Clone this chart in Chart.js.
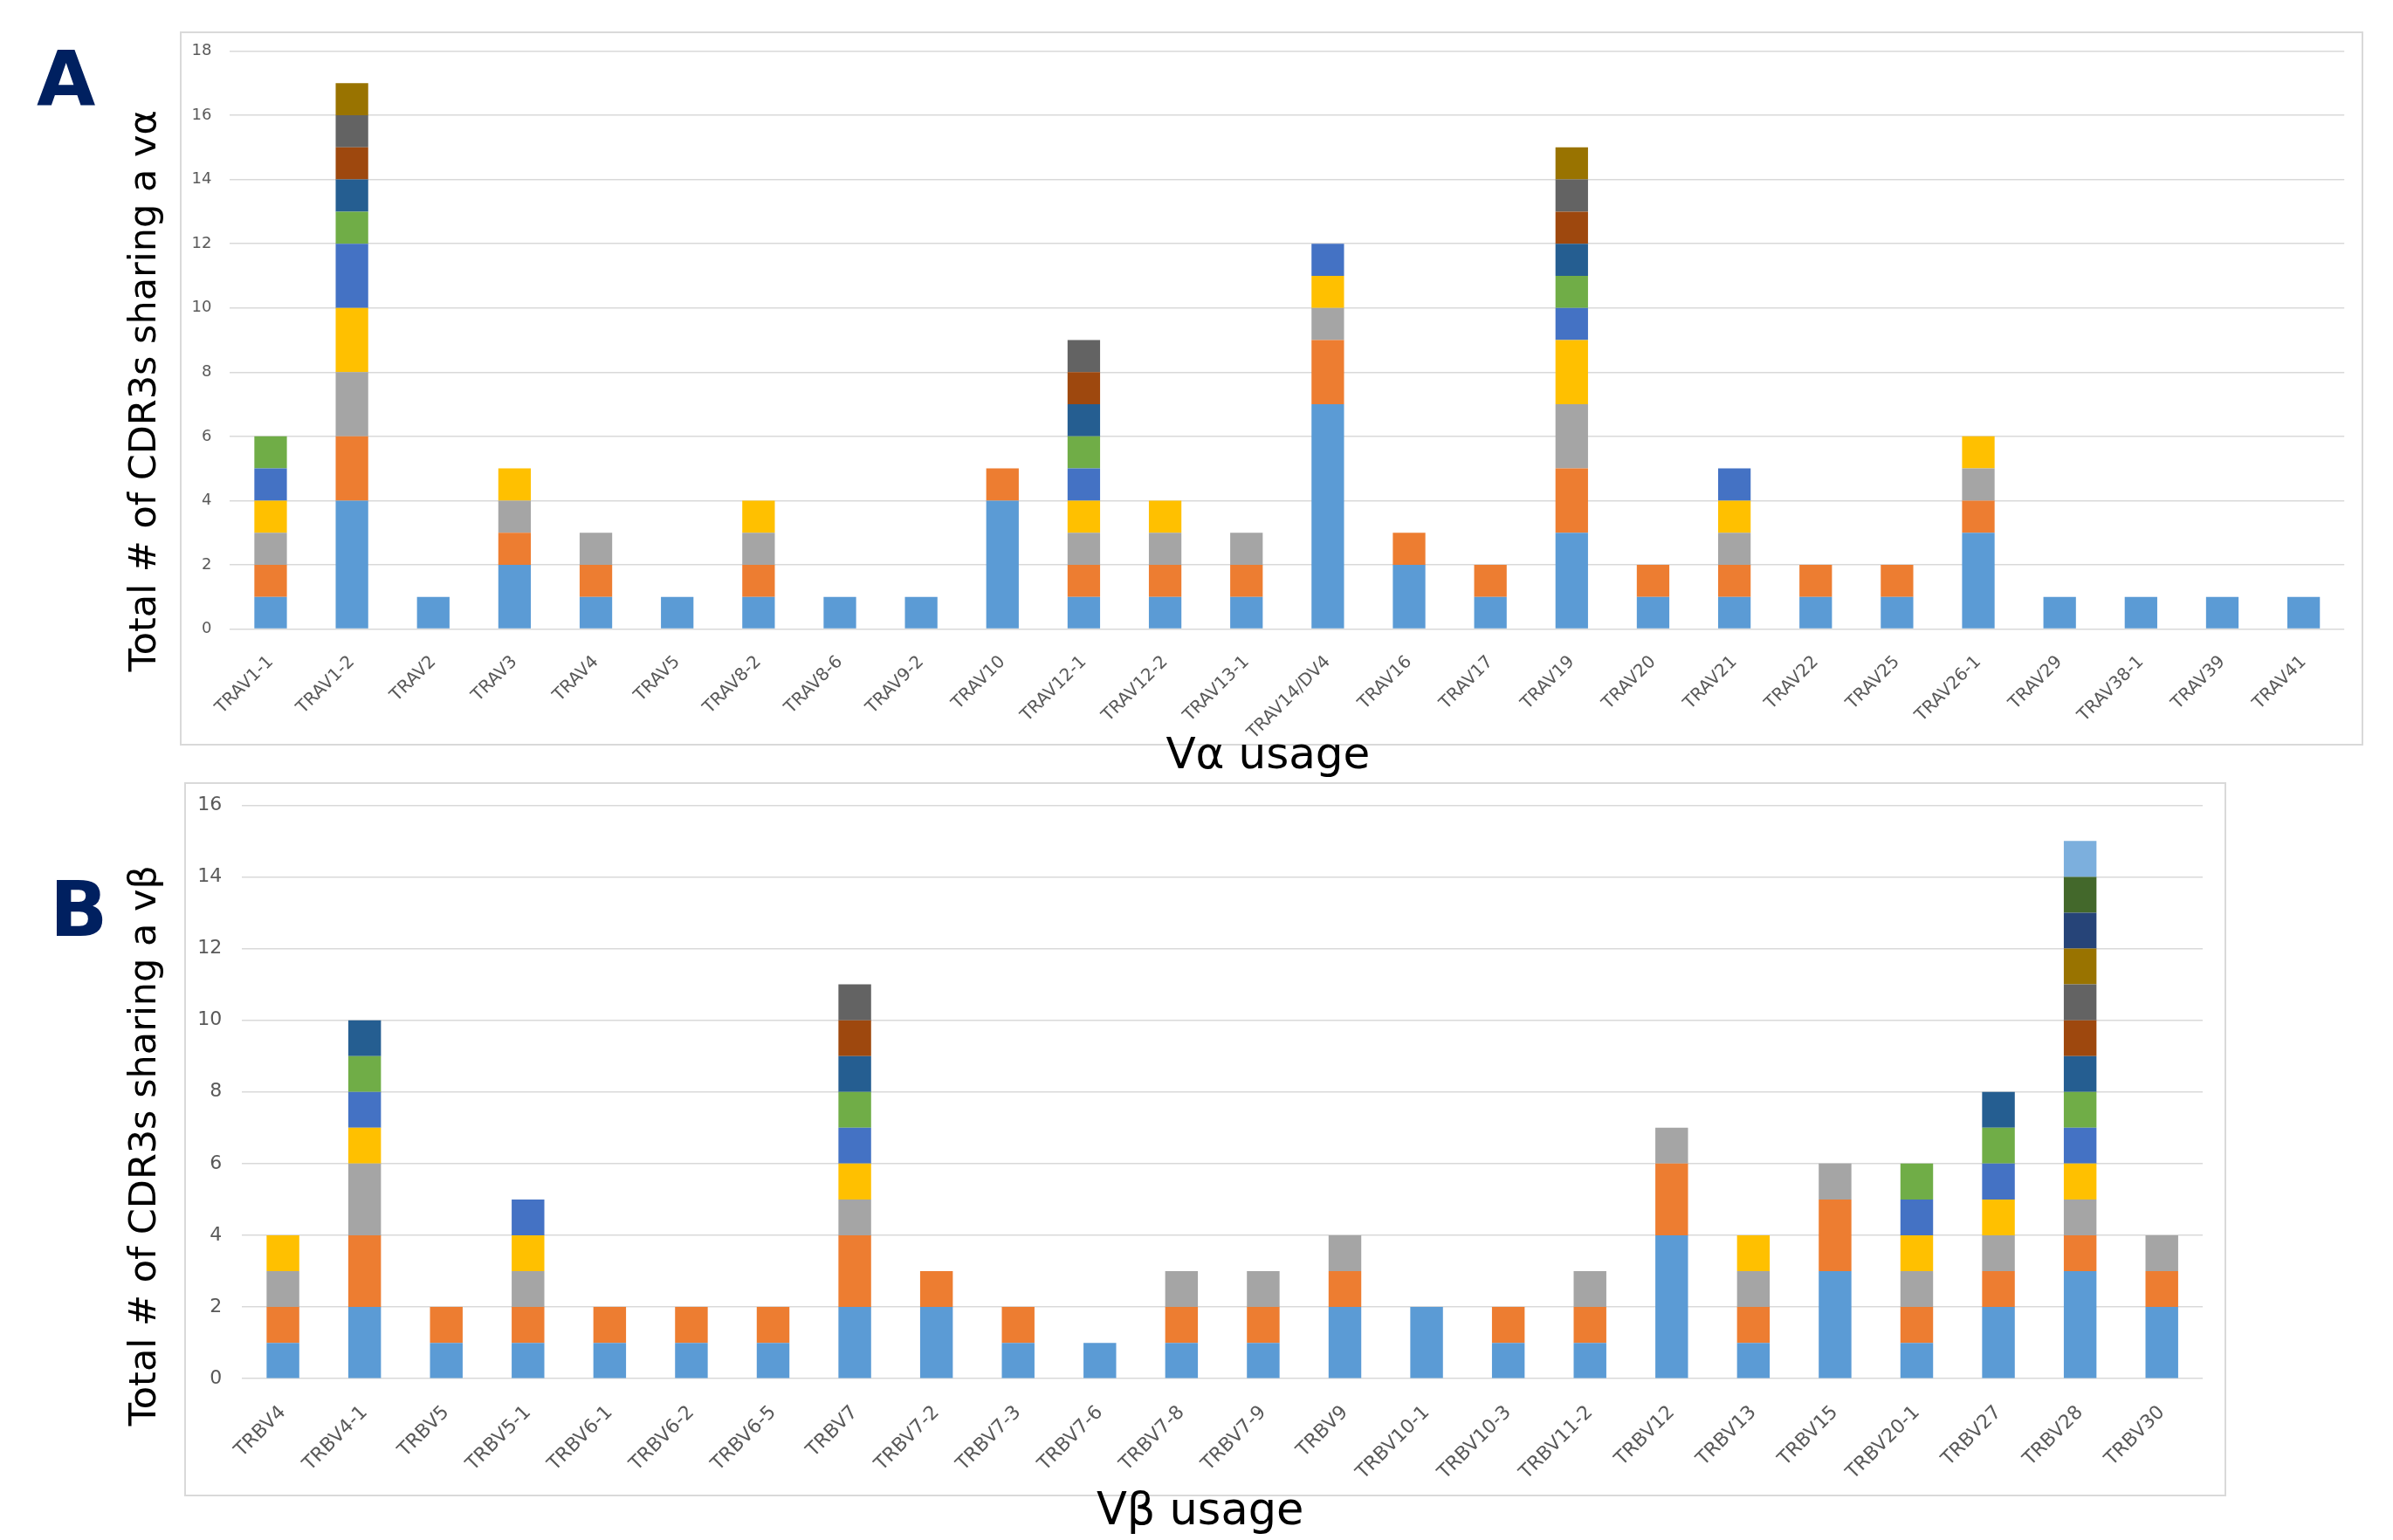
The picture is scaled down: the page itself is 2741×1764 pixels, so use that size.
<!DOCTYPE html>
<html>
<head>
<meta charset="utf-8">
<script src="https://cdn.jsdelivr.net/npm/chart.js@4.4.1/dist/chart.umd.min.js"></script>
<style>
  html, body { margin: 0; padding: 0; background: #fff; }
  body { position: relative; width: 2741px; height: 1764px; overflow: hidden; }
  .frame { position: absolute; border: 2px solid #d9d9d9; box-sizing: border-box; }
  #frameA { left: 206px; top: 36px; width: 2501px; height: 818px; }
  #frameB { left: 211px; top: 896px; width: 2339px; height: 818px; }
  .tag { position: absolute; font: bold 87px "DejaVu Sans", Verdana, sans-serif; line-height: 87px; color: #002060; }
  #tagA { left: 42px; top: 48px; }
  #tagB { left: 57px; top: 999px; }
  canvas { position: absolute; left: 0; }
  #chartA { top: 0; }
  #chartB { top: 880px; }
</style>
</head>
<body>
<div class="frame" id="frameA"></div>
<div class="frame" id="frameB"></div>
<div class="tag" id="tagA">A</div>
<div class="tag" id="tagB">B</div>
<canvas id="chartA" width="2741" height="900"></canvas>
<canvas id="chartB" width="2741" height="884"></canvas>
<script>
// ── V gene categories ────────────────────────────────────────────

const alphaGenes = ['TRAV1-1', 'TRAV1-2', 'TRAV2', 'TRAV3', 'TRAV4', 'TRAV5', 'TRAV8-2', 'TRAV8-6',
    'TRAV9-2', 'TRAV10', 'TRAV12-1', 'TRAV12-2', 'TRAV13-1', 'TRAV14/DV4', 'TRAV16', 'TRAV17',
    'TRAV19', 'TRAV20', 'TRAV21', 'TRAV22', 'TRAV25', 'TRAV26-1', 'TRAV29', 'TRAV38-1', 'TRAV39', 'TRAV41'];

const betaGenes = ['TRBV4', 'TRBV4-1', 'TRBV5', 'TRBV5-1', 'TRBV6-1', 'TRBV6-2', 'TRBV6-5', 'TRBV7',
    'TRBV7-2', 'TRBV7-3', 'TRBV7-6', 'TRBV7-8', 'TRBV7-9', 'TRBV9', 'TRBV10-1', 'TRBV10-3',
    'TRBV11-2', 'TRBV12', 'TRBV13', 'TRBV15', 'TRBV20-1', 'TRBV27', 'TRBV28', 'TRBV30'];

// ── Stacked CDR3 counts per Vα (bottom segment first) ───────────

const alphaCdr1  = [1, 4, 1, 2, 1, 1, 1, 1, 1, 4, 1, 1, 1, 7, 2, 1, 3, 1, 1, 1, 1, 3, 1, 1, 1, 1];
const alphaCdr2  = [1, 2, 0, 1, 1, 0, 1, 0, 0, 1, 1, 1, 1, 2, 1, 1, 2, 1, 1, 1, 1, 1, 0, 0, 0, 0];
const alphaCdr3  = [1, 2, 0, 1, 1, 0, 1, 0, 0, 0, 1, 1, 1, 1, 0, 0, 2, 0, 1, 0, 0, 1, 0, 0, 0, 0];
const alphaCdr4  = [1, 2, 0, 1, 0, 0, 1, 0, 0, 0, 1, 1, 0, 1, 0, 0, 2, 0, 1, 0, 0, 1, 0, 0, 0, 0];
const alphaCdr5  = [1, 2, 0, 0, 0, 0, 0, 0, 0, 0, 1, 0, 0, 1, 0, 0, 1, 0, 1, 0, 0, 0, 0, 0, 0, 0];
const alphaCdr6  = [1, 1, 0, 0, 0, 0, 0, 0, 0, 0, 1, 0, 0, 0, 0, 0, 1, 0, 0, 0, 0, 0, 0, 0, 0, 0];
const alphaCdr7  = [0, 1, 0, 0, 0, 0, 0, 0, 0, 0, 1, 0, 0, 0, 0, 0, 1, 0, 0, 0, 0, 0, 0, 0, 0, 0];
const alphaCdr8  = [0, 1, 0, 0, 0, 0, 0, 0, 0, 0, 1, 0, 0, 0, 0, 0, 1, 0, 0, 0, 0, 0, 0, 0, 0, 0];
const alphaCdr9  = [0, 1, 0, 0, 0, 0, 0, 0, 0, 0, 1, 0, 0, 0, 0, 0, 1, 0, 0, 0, 0, 0, 0, 0, 0, 0];
const alphaCdr10 = [0, 1, 0, 0, 0, 0, 0, 0, 0, 0, 0, 0, 0, 0, 0, 0, 1, 0, 0, 0, 0, 0, 0, 0, 0, 0];

// ── Stacked CDR3 counts per Vβ (bottom segment first) ───────────

const betaCdr1  = [1, 2, 1, 1, 1, 1, 1, 2, 2, 1, 1, 1, 1, 2, 2, 1, 1, 4, 1, 3, 1, 2, 3, 2];
const betaCdr2  = [1, 2, 1, 1, 1, 1, 1, 2, 1, 1, 0, 1, 1, 1, 0, 1, 1, 2, 1, 2, 1, 1, 1, 1];
const betaCdr3  = [1, 2, 0, 1, 0, 0, 0, 1, 0, 0, 0, 1, 1, 1, 0, 0, 1, 1, 1, 1, 1, 1, 1, 1];
const betaCdr4  = [1, 1, 0, 1, 0, 0, 0, 1, 0, 0, 0, 0, 0, 0, 0, 0, 0, 0, 1, 0, 1, 1, 1, 0];
const betaCdr5  = [0, 1, 0, 1, 0, 0, 0, 1, 0, 0, 0, 0, 0, 0, 0, 0, 0, 0, 0, 0, 1, 1, 1, 0];
const betaCdr6  = [0, 1, 0, 0, 0, 0, 0, 1, 0, 0, 0, 0, 0, 0, 0, 0, 0, 0, 0, 0, 1, 1, 1, 0];
const betaCdr7  = [0, 1, 0, 0, 0, 0, 0, 1, 0, 0, 0, 0, 0, 0, 0, 0, 0, 0, 0, 0, 0, 1, 1, 0];
const betaCdr8  = [0, 0, 0, 0, 0, 0, 0, 1, 0, 0, 0, 0, 0, 0, 0, 0, 0, 0, 0, 0, 0, 0, 1, 0];
const betaCdr9  = [0, 0, 0, 0, 0, 0, 0, 1, 0, 0, 0, 0, 0, 0, 0, 0, 0, 0, 0, 0, 0, 0, 1, 0];
const betaCdr10 = [0, 0, 0, 0, 0, 0, 0, 0, 0, 0, 0, 0, 0, 0, 0, 0, 0, 0, 0, 0, 0, 0, 1, 0];
const betaCdr11 = [0, 0, 0, 0, 0, 0, 0, 0, 0, 0, 0, 0, 0, 0, 0, 0, 0, 0, 0, 0, 0, 0, 1, 0];
const betaCdr12 = [0, 0, 0, 0, 0, 0, 0, 0, 0, 0, 0, 0, 0, 0, 0, 0, 0, 0, 0, 0, 0, 0, 1, 0];
const betaCdr13 = [0, 0, 0, 0, 0, 0, 0, 0, 0, 0, 0, 0, 0, 0, 0, 0, 0, 0, 0, 0, 0, 0, 1, 0];

// Office palette, one colour per stacked segment
const segmentColors = ['#5B9BD5', '#ED7D31', '#A5A5A5', '#FFC000', '#4472C4', '#70AD47',
    '#255E91', '#9E480E', '#636363', '#997300', '#264478', '#43682B', '#7CAFDD'];

const FONT = '"DejaVu Sans", Verdana, sans-serif';

// ── Axis titles, centred the way Excel does it ───────────────────
// y title: over plot area + category label band; x title: over tick labels + plot area

const axisTitlesPlugin = {
    id: 'axisTitles',
    afterDraw(chart, args, opts) {
        const { ctx, chartArea, scales } = chart;
        const xLine = opts.xSize * 1.2;
        const yLine = opts.ySize * 1.2;
        ctx.save();
        ctx.fillStyle = '#000';
        ctx.textAlign = 'center';
        ctx.textBaseline = 'middle';

        // width of the widest y tick label
        ctx.font = `${opts.yTickSize}px ${FONT}`;
        const tickW = ctx.measureText(String(scales.y.max)).width;
        const labelsLeft = chartArea.left - opts.yTickPad - tickW;

        ctx.font = `${opts.xSize}px ${FONT}`;
        ctx.fillText(opts.xText, (labelsLeft + chartArea.right) / 2, scales.x.bottom - xLine / 2);

        ctx.font = `${opts.ySize}px ${FONT}`;
        ctx.translate(scales.y.left + yLine / 2, (chartArea.top + scales.x.bottom - xLine) / 2);
        ctx.rotate(-Math.PI / 2);
        ctx.fillText(opts.yText, 0, 0);
        ctx.restore();
    },
};

// ── Chart rendering ──────────────────────────────────────────────

function renderPanel(canvasId, genes, series, cfg) {
    const datasets = series.map((data, i) => ({
        label: `CDR3 ${i + 1}`,
        data,
        backgroundColor: segmentColors[i],
        borderWidth: 0,
        barPercentage: 0.4,
        categoryPercentage: 1,
    }));

    return new Chart(document.getElementById(canvasId), {
        type: 'bar',
        plugins: [axisTitlesPlugin],
        data: { labels: genes, datasets },
        options: {
            responsive: false,
            animation: false,
            devicePixelRatio: 1,
            layout: { padding: cfg.padding },
            plugins: {
                legend: { display: false },
                tooltip: { enabled: false },
                axisTitles: {
                    xText: cfg.xTitle, xSize: cfg.xTitleSize,
                    yText: cfg.yTitle, ySize: 43,
                    yTickSize: cfg.yTickSize, yTickPad: cfg.yTickPad,
                },
            },
            scales: {
                x: {
                    stacked: true,
                    grid: { display: false },
                    border: { display: false },
                    ticks: {
                        autoSkip: false,
                        minRotation: 45,
                        maxRotation: 45,
                        padding: cfg.xTickPad,
                        color: '#595959',
                        font: { family: FONT, size: cfg.xTickSize },
                    },
                    afterFit: (scale) => { scale.height = cfg.xHeight; },
                },
                y: {
                    stacked: true,
                    min: 0,
                    max: cfg.yMax,
                    ticks: {
                        stepSize: 2,
                        padding: cfg.yTickPad,
                        color: '#595959',
                        font: { family: FONT, size: cfg.yTickSize },
                    },
                    grid: { color: '#d9d9d9', lineWidth: 1.5, drawTicks: false },
                    border: { display: false },
                    afterFit: (scale) => { scale.width = cfg.yWidth; },
                },
            },
        },
    });
}

renderPanel('chartA', alphaGenes,
    [alphaCdr1, alphaCdr2, alphaCdr3, alphaCdr4, alphaCdr5, alphaCdr6, alphaCdr7, alphaCdr8, alphaCdr9, alphaCdr10],
    {
        padding: { left: 140.6, top: 58.5, right: 55.8, bottom: 3 },
        yWidth: 122.8, xHeight: 176.5, yMax: 18,
        xTickPad: 18, yTickPad: 21, xTickSize: 20, yTickSize: 18,
        xTitle: 'Vα usage', xTitleSize: 50,
        yTitle: 'Total # of CDR3s sharing a vα',
    });

renderPanel('chartB', betaGenes,
    [betaCdr1, betaCdr2, betaCdr3, betaCdr4, betaCdr5, betaCdr6, betaCdr7, betaCdr8, betaCdr9,
     betaCdr10, betaCdr11, betaCdr12, betaCdr13],
    {
        padding: { left: 140.6, top: 42.3, right: 218, bottom: 0.9 },
        yWidth: 136.7, xHeight: 183.9, yMax: 16,
        xTickPad: 18, yTickPad: 23, xTickSize: 22, yTickSize: 22,
        xTitle: 'Vβ usage', xTitleSize: 51,
        yTitle: 'Total # of CDR3s sharing a vβ',
    });
</script>
</body>
</html>
